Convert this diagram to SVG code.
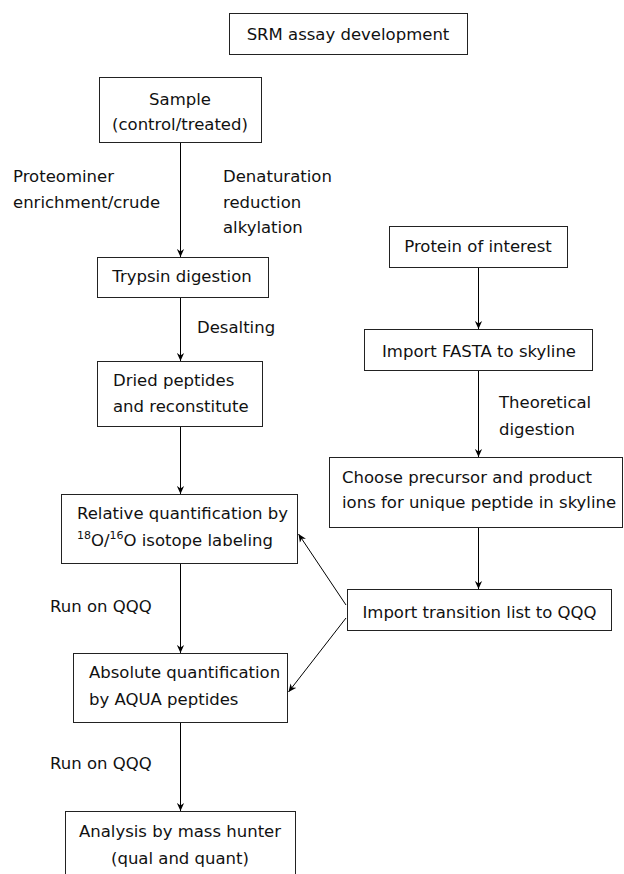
<svg xmlns="http://www.w3.org/2000/svg" width="624" height="874" viewBox="0 0 624 874">
<defs>
<marker id="ah" viewBox="0 0 10 10" refX="10" refY="5" markerWidth="8" markerHeight="8" markerUnits="userSpaceOnUse" orient="auto">
<path d="M0,0.5 L10,5 L0,9.5 L3,5 z" fill="#000"/>
</marker>
<style>
rect{fill:#fff;stroke:#222;stroke-width:1}
text{font-family:"DejaVu Sans","Liberation Sans",sans-serif;font-size:16.5px;fill:#111}
.c{text-anchor:middle}
.e line{stroke:#000;stroke-width:1;marker-end:url(#ah)}
</style>
</defs>
<rect x="0" y="0" width="624" height="874" style="fill:#fff;stroke:none"/>
<g id="title"><rect x="229.5" y="13.5" width="238" height="41"/><text class="c" x="348" y="40">SRM assay development</text></g>
<g id="sample"><rect x="99.5" y="77.5" width="162" height="65"/><text class="c" x="180" y="105">Sample</text><text class="c" x="180" y="130">(control/treated)</text></g>
<g id="trypsin"><rect x="97.5" y="257.5" width="171" height="40"/><text class="c" x="182" y="282">Trypsin digestion</text></g>
<g id="dried"><rect x="97.5" y="361.5" width="165" height="65"/><text x="113" y="386">Dried peptides</text><text x="113" y="412">and reconstitute</text></g>
<g id="relative"><rect x="61.5" y="494.5" width="236" height="69"/><text x="77" y="519">Relative quantification by</text><text x="77" y="546"><tspan font-size="11" dy="-7">18</tspan><tspan dy="7">O/</tspan><tspan font-size="11" dy="-7">16</tspan><tspan dy="7">O isotope labeling</tspan></text></g>
<g id="absolute"><rect x="73.5" y="653.5" width="214" height="69"/><text x="89" y="678">Absolute quantification</text><text x="89" y="705">by AQUA peptides</text></g>
<g id="analysis"><rect x="65.5" y="811.5" width="230" height="80"/><text class="c" x="180" y="837">Analysis by mass hunter</text><text class="c" x="180" y="864">(qual and quant)</text></g>
<g id="protein"><rect x="389.5" y="226.5" width="178" height="41"/><text class="c" x="478" y="252">Protein of interest</text></g>
<g id="fasta"><rect x="364.5" y="329.5" width="228" height="41"/><text class="c" x="479" y="357">Import FASTA to skyline</text></g>
<g id="choose"><rect x="329.5" y="457.5" width="293" height="70"/><text x="342" y="483">Choose precursor and product</text><text x="342" y="508">ions for unique peptide in skyline</text></g>
<g id="transition"><rect x="347.5" y="589.5" width="264" height="41"/><text class="c" x="479.5" y="618">Import transition list to QQQ</text></g>
<g id="labels">
<text x="13" y="182">Proteominer</text><text x="13" y="208">enrichment/crude</text>
<text x="223" y="182">Denaturation</text><text x="223" y="208">reduction</text><text x="223" y="233">alkylation</text>
<text x="197" y="333">Desalting</text>
<text x="50" y="612">Run on QQQ</text>
<text x="50" y="769">Run on QQQ</text>
<text x="499" y="408">Theoretical</text><text x="499" y="435">digestion</text>
</g>
<g id="connectors" class="e">
<line x1="180.5" y1="143" x2="180.5" y2="257"/>
<line x1="180.5" y1="298" x2="180.5" y2="361"/>
<line x1="180.5" y1="427" x2="180.5" y2="494"/>
<line x1="180.5" y1="564" x2="180.5" y2="653"/>
<line x1="180.5" y1="723" x2="180.5" y2="811"/>
<line x1="478.5" y1="268" x2="478.5" y2="329"/>
<line x1="478.5" y1="371" x2="478.5" y2="457"/>
<line x1="478.5" y1="528" x2="478.5" y2="589"/>
<line x1="346" y1="605" x2="298.5" y2="534"/>
<line x1="346" y1="618" x2="288.5" y2="692"/>
</g>
</svg>
